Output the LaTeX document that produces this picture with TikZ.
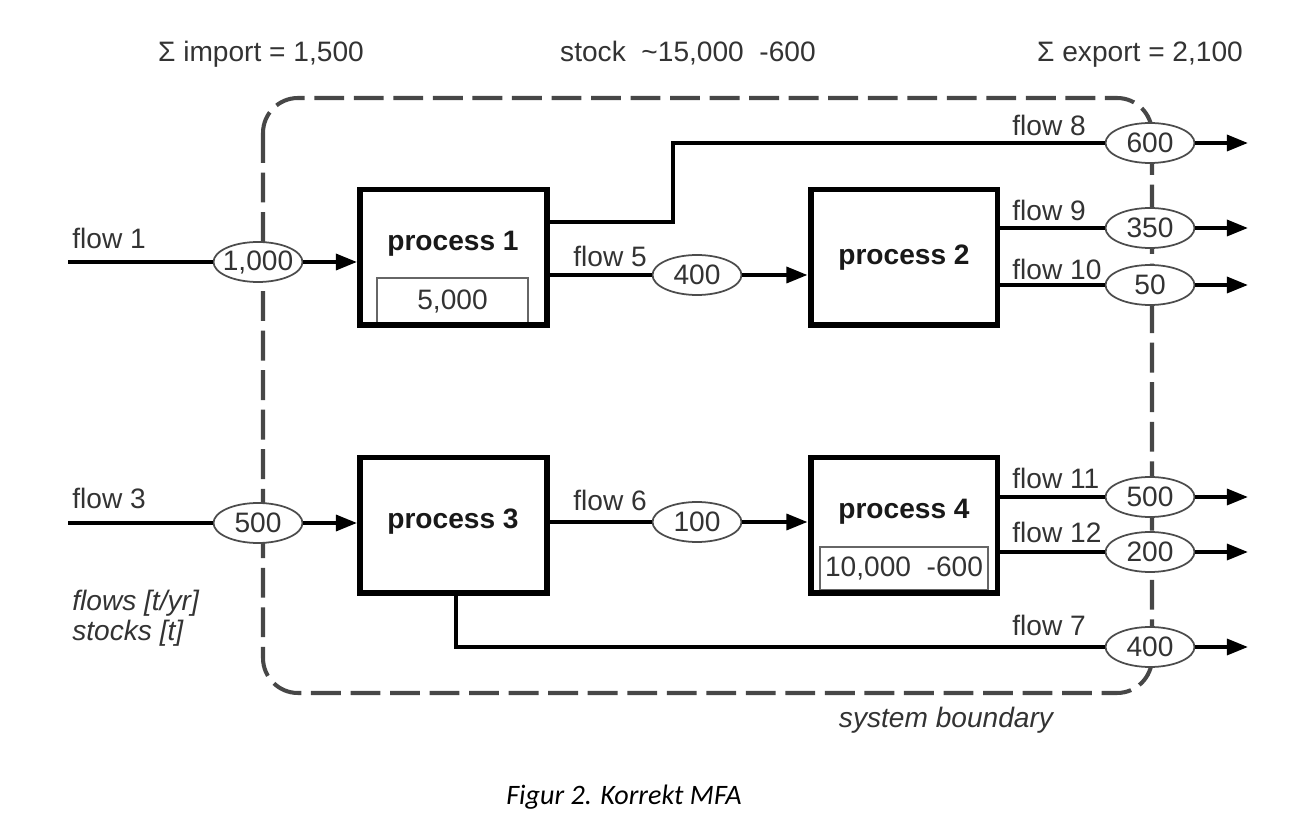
\documentclass[tikz,border=0pt]{standalone}
\usepackage{fontspec}
\setmainfont{Liberation Sans}
\newfontfamily\capfont{Carlito}
\usetikzlibrary{arrows.meta,shapes.geometric,positioning}

\begin{document}
\begin{tikzpicture}[x=0.02cm,y=-0.02cm,
    every node/.style={font=\fontsize{16}{19}\selectfont, text=black!80},
    proc/.style={draw=black, line width=3.4pt, minimum width=3.74cm, minimum height=2.72cm, inner sep=0pt},
    ptext/.style={font=\fontsize{16}{19}\selectfont\bfseries, text=black!90},
    stockbox/.style={draw=black!60, line width=0.9pt, inner sep=0pt},
    val/.style={ellipse, draw=black!70, line width=1pt, fill=white, minimum width=1.78cm, minimum height=0.8cm, inner sep=-6pt},
    flow/.style={line width=2.2pt, black},
    flowto/.style={flow, -{Triangle[length=12pt,width=9pt]}},
    bound/.style={draw=black!72, line width=2.3pt, dash pattern=on 17pt off 5.5pt, rounded corners=0.7cm},
    lab/.style={anchor=west, inner sep=0pt}]
  \useasboundingbox (0,0) rectangle (1316,834);

  % sums and stock on top
  \node[anchor=base] (imp) at (261,62) {Σ import = 1,500};
  \node[anchor=base] (stk) at (688,62) {stock\ \ \textasciitilde 15,000\ \ -600};
  \node[anchor=base] (exp) at (1140,62) {Σ export = 2,100};

  % system boundary
  \draw[bound] (263,98) rectangle (1152,693);
  \node[font=\itshape\fontsize{16}{19}\selectfont] (sb) at (946,720) {system boundary};
  \node[lab, align=left, font=\itshape\fontsize{16}{17}\selectfont] (units) at (72,618) {flows [t/yr]\\stocks [t]};

  % processes
  \node[stockbox, minimum width=3.02cm, minimum height=0.92cm] (s1) at (452.5,301) {5,000};
  \node[stockbox, minimum width=3.36cm, minimum height=0.86cm] (s4) at (904,568.5) {10,000\ \ -600};
  \node[proc] (p1) at (453.5,257.5) {};
  \node[proc] (p2) at (904,257.5) {};
  \node[proc] (p3) at (453.5,525.5) {};
  \node[proc] (p4) at (904,525.5) {};
  \node[ptext] (p1t) at (453,244) {process 1};
  \node[ptext] (p2t) at (904,258) {process 2};
  \node[ptext] (p3t) at (453,522) {process 3};
  \node[ptext] (p4t) at (904,512) {process 4};

  % flow values
  \node[val] (e1) at (258,262) {1,000};
  \node[val] (e3) at (258,523) {500};
  \node[val] (e5) at (697,275) {400};
  \node[val] (e6) at (697,522) {100};
  \node[val] (e8) at (1150,143) {600};
  \node[val] (e9) at (1150,228) {350};
  \node[val] (e10) at (1150,285) {50};
  \node[val] (e11) at (1150,497) {500};
  \node[val] (e12) at (1150,552) {200};
  \node[val] (e7) at (1150,647) {400};

  % free ends and bends
  \coordinate (in1) at (68,262);
  \coordinate (in3) at (68,523);
  \coordinate (k8) at (673,222);
  \coordinate (k7) at (456,647);
  \coordinate (out8) at (1248,143);
  \coordinate (out9) at (1248,228);
  \coordinate (out10) at (1248,285);
  \coordinate (out11) at (1248,497);
  \coordinate (out12) at (1248,552);
  \coordinate (out7) at (1248,647);

  % flows
  \draw[flow] (in1) -- (e1);
  \draw[flowto] (e1) -- (e1 -| p1.west);
  \draw[flow] (in3) -- (e3);
  \draw[flowto] (e3) -- (e3 -| p3.west);
  \draw[flow] (e5 -| p1.east) -- (e5);
  \draw[flowto] (e5) -- (e5 -| p2.west);
  \draw[flow] (e6 -| p3.east) -- (e6);
  \draw[flowto] (e6) -- (e6 -| p4.west);
  \draw[flow] (k8 -| p1.east) -- (k8) |- (e8);
  \draw[flowto] (e8) -- (out8);
  \draw[flow] (e9 -| p2.east) -- (e9);
  \draw[flowto] (e9) -- (out9);
  \draw[flow] (e10 -| p2.east) -- (e10);
  \draw[flowto] (e10) -- (out10);
  \draw[flow] (e11 -| p4.east) -- (e11);
  \draw[flowto] (e11) -- (out11);
  \draw[flow] (e12 -| p4.east) -- (e12);
  \draw[flowto] (e12) -- (out12);
  \draw[flow] (p3.south -| k7) -- (k7) -- (e7);
  \draw[flowto] (e7) -- (out7);

  % flow labels
  \node[lab] (l1) at (72,238) {flow 1};
  \node[lab] (l3) at (72,498) {flow 3};
  \node[lab] (l5) at (573,256) {flow 5};
  \node[lab] (l6) at (573,500) {flow 6};
  \node[lab] (l8) at (1012,125) {flow 8};
  \node[lab] (l9) at (1012,210) {flow 9};
  \node[lab] (l10) at (1012,269) {flow 10};
  \node[lab] (l11) at (1012,478) {flow 11};
  \node[lab] (l12) at (1012,532) {flow 12};
  \node[lab] (l7) at (1012,625) {flow 7};

  \node[font=\capfont\itshape\fontsize{16}{19}\selectfont, text=black] (cap) at (624,797) {Figur 2. Korrekt MFA};
\end{tikzpicture}
\end{document}
